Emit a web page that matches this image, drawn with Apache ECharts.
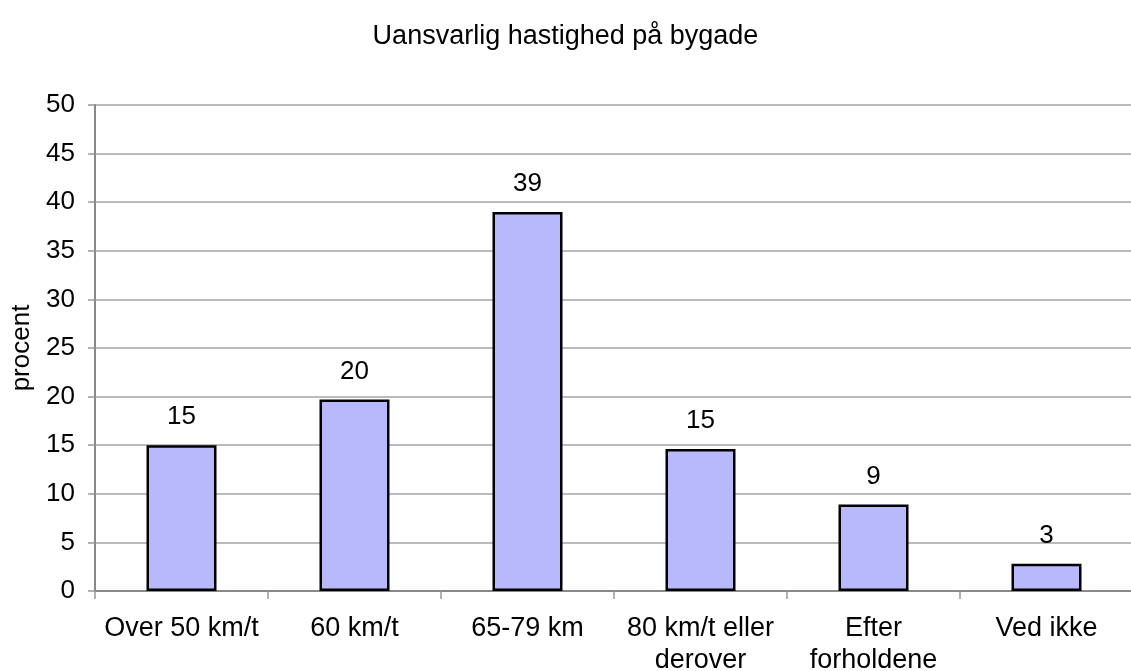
<!DOCTYPE html>
<html>
<head>
<meta charset="utf-8">
<script src="https://cdn.jsdelivr.net/npm/echarts@6/dist/echarts.min.js"></script>
<style>
  html, body { margin: 0; padding: 0; background: #fff; }
  #chart { width: 1131px; height: 671px; }
</style>
</head>
<body>
<div id="chart"></div>
<script>
// data
const titleText = 'Uansvarlig hastighed på bygade'
const categories = ['Over 50 km/t', '60 km/t', '65-79 km', '80 km/t eller\nderover', 'Efter\nforholdene', 'Ved ikke']
const values = [15.0, 19.7, 39.0, 14.6, 8.9, 2.8]
const labels = ['15', '20', '39', '15', '9', '3']

const font = 'Liberation Sans, Arial, sans-serif'
const chart = echarts.init(document.getElementById('chart'))

chart.setOption({
  animation: false,
  title: {
    text: titleText,
    left: 'center',
    top: 18,
    textStyle: { fontFamily: font, fontSize: 27, fontWeight: 'normal', color: '#000' },
  },
  grid: { left: 95, right: -2, top: 105, bottom: 80, containLabel: false, outerBoundsMode: 'none' },
  xAxis: {
    type: 'category',
    data: categories,
    axisLine: { lineStyle: { color: '#888', width: 2 } },
    axisTick: { show: true, length: 8, lineStyle: { color: '#999', width: 1.5 } },
    axisLabel: { interval: 0, fontFamily: font, fontSize: 27, color: '#000', margin: 22, lineHeight: 32 },
  },
  yAxis: {
    type: 'value',
    min: 0,
    max: 50,
    interval: 5,
    name: 'procent',
    nameLocation: 'middle',
    nameGap: 59,
    nameTextStyle: { fontFamily: font, fontSize: 26, color: '#000' },
    axisLine: { show: true, lineStyle: { color: '#888', width: 2 } },
    axisTick: { show: true, length: 7, lineStyle: { color: '#999', width: 1.5 } },
    axisLabel: { fontFamily: font, fontSize: 26, color: '#000', margin: 20 },
    splitLine: { lineStyle: { color: '#bbb', width: 2 } },
  },
  series: [
    {
      type: 'bar',
      data: values,
      barWidth: 70,
      itemStyle: { color: '#b8b8fc', borderColor: '#000', borderWidth: 2.5 },
      label: {
        show: true,
        position: 'top',
        distance: 15,
        fontFamily: font,
        fontSize: 26,
        color: '#000',
        formatter: p => labels[p.dataIndex],
      },
    },
  ],
})
</script>
</body>
</html>
